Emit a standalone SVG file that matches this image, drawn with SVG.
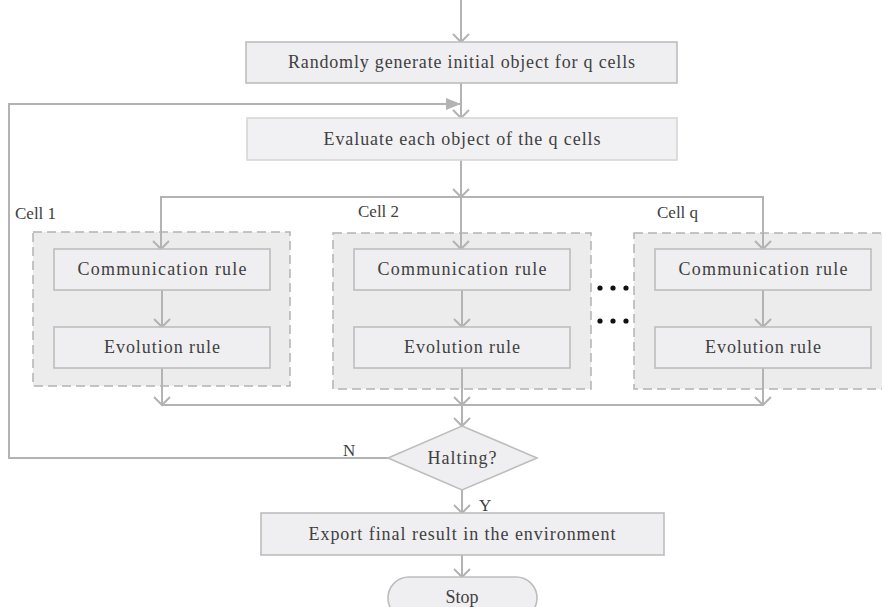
<svg xmlns="http://www.w3.org/2000/svg" width="882" height="607" viewBox="0 0 882 607">
<style>
.box{fill:#efeff1;stroke:#bdbdbd;stroke-width:1.6}
.box2{fill:#f1f1f3;stroke:#d6d6d6;stroke-width:1.6}
.cont{fill:#ececec;stroke:#b3b3b3;stroke-width:1.5;stroke-dasharray:9 5}
.ln{fill:none;stroke:#b3b3b3;stroke-width:2}
.t{font-family:"Liberation Serif","Times New Roman",serif;font-size:18px;fill:#404040;text-anchor:middle}
.l{font-family:"Liberation Serif","Times New Roman",serif;font-size:17px;fill:#404040}
.dot{fill:#111}
</style>
<defs>
<marker id="v" viewBox="-10 -10 12 20" markerWidth="12" markerHeight="20" refX="0" refY="0" orient="auto" markerUnits="userSpaceOnUse">
<path d="M-8,-8 L0,0 L-8,8" fill="none" stroke="#b3b3b3" stroke-width="2"/>
</marker>
<marker id="tri" viewBox="-16 -7 17 14" markerWidth="17" markerHeight="14" refX="0" refY="0" orient="auto" markerUnits="userSpaceOnUse">
<path d="M-15,-6 L0,0 L-15,6 Z" fill="#b3b3b3"/>
</marker>
</defs>

<g id="cell1">
<rect class="cont" x="33" y="232" width="257" height="154"/>
<text class="l" x="15" y="219">Cell 1</text>
</g>
<g id="cell2">
<rect class="cont" x="333" y="233" width="258" height="156"/>
<text class="l" x="358" y="217">Cell 2</text>
</g>
<g id="cellq">
<rect class="cont" x="634" y="233" width="260" height="156"/>
<text class="l" x="657" y="218">Cell q</text>
</g>

<g id="connectors">
<path class="ln" d="M461,0 V42" marker-end="url(#v)"/>
<path class="ln" d="M461,83 V118" marker-end="url(#v)"/>
<path class="ln" d="M388,458 H9 V104 H461" marker-end="url(#tri)"/>
<path class="ln" d="M461,160 V197" marker-end="url(#v)"/>
<path class="ln" d="M161,249 V197 H763 V249" marker-end="url(#v)"/>
<path class="ln" d="M461,197 V249" marker-end="url(#v)"/>
<path class="ln" d="M161,197 V249" marker-end="url(#v)"/>
<path class="ln" d="M162,290 V327" marker-end="url(#v)"/>
<path class="ln" d="M462,290 V327" marker-end="url(#v)"/>
<path class="ln" d="M763,290 V327" marker-end="url(#v)"/>
<path class="ln" d="M162,368 V405" marker-end="url(#v)"/>
<path class="ln" d="M462,368 V405" marker-end="url(#v)"/>
<path class="ln" d="M763,368 V405" marker-end="url(#v)"/>
<path class="ln" d="M162,405 H763"/>
<path class="ln" d="M462,405 V426" marker-end="url(#v)"/>
<path class="ln" d="M462,490 V513" marker-end="url(#v)"/>
<path class="ln" d="M462,555 V577" marker-end="url(#v)"/>
</g>

<g id="start">
<rect class="box" x="246" y="42" width="431" height="41"/>
<text class="t" x="461.5" y="68" textLength="347" lengthAdjust="spacing">Randomly generate initial object for q cells</text>
</g>
<g id="evaluate">
<rect class="box2" x="247" y="118" width="430" height="42"/>
<text class="t" x="462" y="145" textLength="277" lengthAdjust="spacing">Evaluate each object of the q cells</text>
</g>

<g id="comm1">
<rect class="box" x="54" y="249" width="216" height="41"/>
<text class="t" x="162" y="275" textLength="169" lengthAdjust="spacing">Communication rule</text>
</g>
<g id="evo1">
<rect class="box" x="54" y="327" width="216" height="41"/>
<text class="t" x="162" y="353" textLength="116" lengthAdjust="spacing">Evolution rule</text>
</g>
<g id="comm2">
<rect class="box" x="354" y="249" width="216" height="41"/>
<text class="t" x="462" y="275" textLength="169" lengthAdjust="spacing">Communication rule</text>
</g>
<g id="evo2">
<rect class="box" x="354" y="327" width="216" height="41"/>
<text class="t" x="462" y="353" textLength="116" lengthAdjust="spacing">Evolution rule</text>
</g>
<g id="commq">
<rect class="box" x="655" y="249" width="216" height="41"/>
<text class="t" x="763" y="275" textLength="169" lengthAdjust="spacing">Communication rule</text>
</g>
<g id="evoq">
<rect class="box" x="655" y="327" width="216" height="41"/>
<text class="t" x="763" y="353" textLength="116" lengthAdjust="spacing">Evolution rule</text>
</g>

<g id="dots">
<circle class="dot" cx="600" cy="288" r="2.6"/>
<circle class="dot" cx="613" cy="288" r="2.6"/>
<circle class="dot" cx="626" cy="288" r="2.6"/>
<circle class="dot" cx="600" cy="321" r="2.6"/>
<circle class="dot" cx="613" cy="321" r="2.6"/>
<circle class="dot" cx="626" cy="321" r="2.6"/>
</g>

<g id="halting">
<polygon class="box" points="462,426 537,458 462,490 388,458"/>
<text class="t" x="462" y="464" textLength="69" lengthAdjust="spacing">Halting?</text>
<text class="l" x="343" y="456">N</text>
<text class="l" x="479" y="511">Y</text>
</g>

<g id="export">
<rect class="box" x="261" y="513" width="403" height="42"/>
<text class="t" x="462" y="540" textLength="307" lengthAdjust="spacing">Export final result in the environment</text>
</g>
<g id="stop">
<rect class="box" x="388" y="577" width="149" height="42" rx="21"/>
<text class="t" x="462" y="603">Stop</text>
</g>
</svg>
